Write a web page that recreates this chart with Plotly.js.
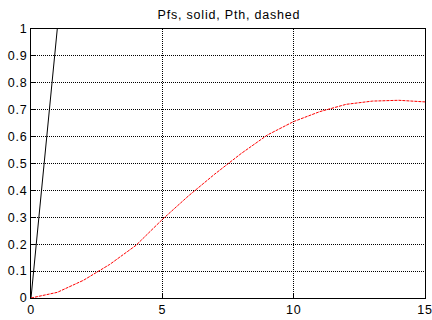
<!DOCTYPE html>
<html>
<head>
<meta charset="utf-8">
<script src="https://cdn.plot.ly/plotly-3.0.1.min.js"></script>
<style>
html,body{margin:0;padding:0;background:#fff;}
#chart{width:432px;height:320px;}
#chart .gtitle{letter-spacing:0.8px;}
#chart .xtick text, #chart .ytick text, #chart g.xtick, #chart g.ytick{letter-spacing:0.8px;}
</style>
</head>
<body>
<div id="chart"></div>
<script>
const pfsX = [0, 1, 2];
const pfsY = [0, 1, 2];
const pthX = [0, 1, 2, 3, 4, 5, 6, 7, 8, 9, 10, 11, 12, 13, 14, 15];
const pthY = [0, 0.021, 0.066, 0.125, 0.196, 0.292, 0.38, 0.461, 0.537, 0.606, 0.656, 0.693, 0.72, 0.732, 0.735, 0.729];
const xTicks = [0, 5, 10, 15];
const yTicks = [0, 0.1, 0.2, 0.3, 0.4, 0.5, 0.6, 0.7, 0.8, 0.9, 1];
const yTickText = ['0', '0.1', '0.2', '0.3', '0.4', '0.5', '0.6', '0.7', '0.8', '0.9', '1'];
const titleText = 'Pfs, solid, Pth, dashed';

const fontFam = 'Liberation Sans, Arial, sans-serif';
const traces = [
  {x: pfsX, y: pfsY, mode: 'lines', line: {color: '#000', width: 1}, hoverinfo: 'skip'},
  {x: pthX, y: pthY, mode: 'lines', line: {color: '#ff0000', width: 1, dash: '3px,1px'}, hoverinfo: 'skip'}
];
const axisCommon = {
  showline: true, linecolor: '#000', linewidth: 1, mirror: true,
  ticks: 'inside', ticklen: 4, tickcolor: '#000',
  showgrid: true, gridcolor: '#000', gridwidth: 1, griddash: '1px,1px',
  zeroline: false, ticklabeloverflow: 'allow',
  tickfont: {family: fontFam, size: 12.5, color: '#000'}
};
const layout = {
  width: 432, height: 320,
  margin: {l: 31, r: 7, t: 29, b: 22},
  paper_bgcolor: '#fff', plot_bgcolor: '#fff',
  showlegend: false,
  title: {text: titleText, x: 0.53, xanchor: 'center', y: 0.955, yanchor: 'middle',
          font: {family: fontFam, size: 12.5, color: '#000'}},
  xaxis: Object.assign({}, axisCommon, {range: [0, 15], tickvals: xTicks, ticktext: xTicks.map(String)}),
  yaxis: Object.assign({}, axisCommon, {range: [0, 1], tickvals: yTicks, ticktext: yTickText})
};
Plotly.newPlot('chart', traces, layout, {staticPlot: true, displayModeBar: false});
</script>
</body>
</html>
